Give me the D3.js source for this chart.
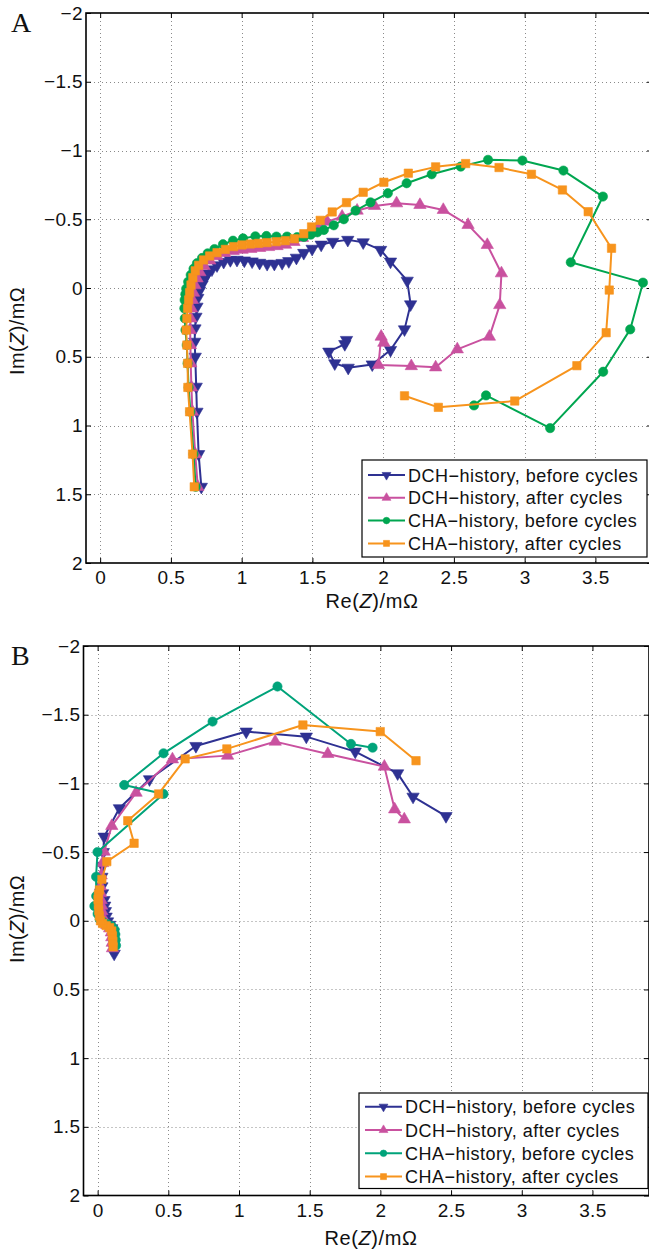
<!DOCTYPE html>
<html><head><meta charset="utf-8">
<script src="https://cdn.jsdelivr.net/npm/d3@7"></script>
<style>
body{margin:0;background:#fff;}
svg{display:block;}
</style></head>
<body>
<svg id="chart" width="649" height="1253"></svg>
<script>
// ---------- data (Re(Z) in mΩ, Im(Z) in mΩ as plotted) ----------
const seriesNames = ["DCH\u2212history, before cycles","DCH\u2212history, after cycles","CHA\u2212history, before cycles","CHA\u2212history, after cycles"];
const xTicks = [0,0.5,1,1.5,2,2.5,3,3.5];
const yTicks = [-2,-1.5,-1,-0.5,0,0.5,1,1.5,2];

const A_dchBefore = [[0.715,1.446],[0.696,1.208],[0.684,0.900],[0.679,0.718],[0.672,0.500],[0.668,0.391],[0.670,0.294],[0.677,0.209],[0.684,0.136],[0.690,0.072],[0.702,0.020],
 [0.720,-0.025],[0.740,-0.070],[0.760,-0.105],[0.790,-0.135],[0.826,-0.165],[0.873,-0.190],[0.920,-0.203],[0.967,-0.205],[1.019,-0.200],[1.074,-0.193],[1.127,-0.183],[1.180,-0.175],[1.231,-0.176],[1.286,-0.182],[1.333,-0.195],[1.387,-0.220],[1.439,-0.255],[1.498,-0.285],[1.562,-0.315],[1.644,-0.336],[1.750,-0.350],[1.859,-0.332],[1.982,-0.277],[2.052,-0.192],[2.170,-0.053],[2.194,0.119],[2.151,0.301],[2.052,0.451],[1.923,0.556],[1.753,0.580],[1.658,0.548],[1.616,0.463],[1.729,0.408],[1.741,0.378]];
const A_dchAfter = [[0.690,1.446],[0.672,1.208],[0.652,0.900],[0.645,0.723],[0.640,0.548],[0.638,0.415],[0.636,0.306],[0.640,0.221],[0.645,0.148],[0.652,0.087],[0.660,0.034],
 [0.670,-0.020],[0.685,-0.070],[0.705,-0.115],[0.735,-0.160],[0.775,-0.200],[0.825,-0.232],[0.880,-0.255],[0.940,-0.270],[1.003,-0.278],[1.065,-0.285],[1.127,-0.292],[1.190,-0.298],[1.250,-0.305],[1.310,-0.315],[1.370,-0.335],[1.430,-0.365],[1.480,-0.400],[1.533,-0.440],[1.604,-0.483],[1.710,-0.519],[1.816,-0.563],[1.939,-0.597],[2.095,-0.616],[2.260,-0.604],[2.425,-0.568],[2.600,-0.459],[2.736,-0.313],[2.836,-0.107],[2.824,0.124],[2.751,0.354],[2.524,0.446],[2.371,0.577],[2.199,0.568],[1.967,0.560],[1.986,0.354],[2.005,0.398]];
const A_chaBefore = [[0.675,1.446],[0.660,1.208],[0.638,0.900],[0.625,0.723],[0.618,0.548],[0.612,0.415],[0.603,0.306],[0.598,0.221],[0.595,0.148],[0.597,0.087],[0.602,0.045],
 [0.608,0.005],[0.622,-0.045],[0.640,-0.095],[0.660,-0.140],[0.684,-0.180],[0.720,-0.218],[0.760,-0.252],[0.808,-0.283],[0.868,-0.318],[0.939,-0.344],[1.010,-0.361],[1.097,-0.376],[1.175,-0.378],[1.246,-0.374],[1.321,-0.374],[1.392,-0.370],[1.440,-0.372],[1.488,-0.388],[1.535,-0.405],[1.581,-0.422],[1.651,-0.456],[1.722,-0.500],[1.805,-0.563],[1.911,-0.623],[2.033,-0.689],[2.166,-0.762],[2.343,-0.827],[2.548,-0.883],[2.741,-0.932],[2.984,-0.927],[3.274,-0.854],[3.553,-0.665],[3.326,-0.187],[3.836,-0.039],[3.746,0.301],[3.555,0.609],[3.180,1.019],[2.727,0.781],[2.642,0.854]];
const A_chaAfter = [[0.665,1.446],[0.653,1.208],[0.632,0.900],[0.620,0.723],[0.618,0.548],[0.613,0.415],[0.608,0.306],[0.613,0.221],[0.618,0.148],[0.625,0.087],[0.632,0.034],
 [0.642,-0.022],[0.655,-0.075],[0.672,-0.125],[0.696,-0.165],[0.731,-0.204],[0.774,-0.233],[0.826,-0.257],[0.885,-0.281],[0.943,-0.301],[1.003,-0.313],[1.062,-0.320],[1.120,-0.325],[1.180,-0.330],[1.246,-0.337],[1.309,-0.344],[1.373,-0.358],[1.439,-0.395],[1.494,-0.444],[1.555,-0.492],[1.640,-0.553],[1.741,-0.621],[1.859,-0.696],[2.005,-0.769],[2.178,-0.835],[2.371,-0.881],[2.583,-0.905],[2.819,-0.876],[3.048,-0.827],[3.267,-0.713],[3.449,-0.555],[3.614,-0.289],[3.598,0.015],[3.576,0.325],[3.369,0.565],[2.930,0.822],[2.390,0.868],[2.151,0.784]];

const B_dchBefore = [[0.117,0.240],[0.115,0.200],[0.113,0.160],[0.112,0.120],[0.110,0.085],[0.100,0.055],[0.085,0.030],[0.070,0.005],[0.060,-0.030],[0.055,-0.070],[0.050,-0.110],[0.045,-0.150],[0.035,-0.200],[0.030,-0.250],[0.030,-0.320],[0.035,-0.400],[0.040,-0.500],[0.046,-0.612],[0.154,-0.819],[0.367,-1.030],[0.695,-1.272],[1.051,-1.377],[1.476,-1.340],[1.822,-1.231],[2.122,-1.073],[2.231,-0.903],[2.464,-0.762]];
const B_dchAfter = [[0.105,0.200],[0.103,0.160],[0.100,0.120],[0.097,0.085],[0.085,0.055],[0.065,0.030],[0.045,0.005],[0.035,-0.030],[0.030,-0.070],[0.028,-0.110],[0.025,-0.150],[0.022,-0.200],[0.020,-0.250],[0.025,-0.330],[0.035,-0.420],[0.046,-0.503],[0.100,-0.690],[0.272,-0.932],[0.529,-1.175],[0.919,-1.202],[1.256,-1.304],[1.628,-1.214],[2.028,-1.122],[2.101,-0.811],[2.169,-0.738]];
const B_chaBefore = [[0.130,0.180],[0.128,0.140],[0.125,0.100],[0.120,0.065],[0.100,0.040],[0.070,0.025],[0.040,0.010],[0.015,-0.010],[0.000,-0.050],[-0.023,-0.107],[-0.010,-0.180],[-0.011,-0.320],[-0.001,-0.500],[0.466,-0.923],[0.188,-0.988],[0.466,-1.219],[0.813,-1.450],[1.272,-1.705],[1.792,-1.287],[1.945,-1.260]];
const B_chaAfter = [[0.110,0.190],[0.108,0.150],[0.105,0.110],[0.100,0.075],[0.085,0.050],[0.060,0.035],[0.035,0.020],[0.020,0.000],[0.012,-0.035],[0.008,-0.075],[0.005,-0.115],[0.003,-0.155],[0.005,-0.190],[0.013,-0.224],[0.030,-0.301],[0.065,-0.430],[0.258,-0.564],[0.213,-0.728],[0.431,-0.923],[0.619,-1.178],[0.914,-1.251],[1.452,-1.425],[1.999,-1.377],[2.252,-1.165]];

// ---------- styles ----------
const colorsA = ["#2e3192","#c9519f","#00a650","#f7941d"];
const colorsB = ["#2e3192","#c9519f","#00a37a","#f7941d"];
const symbols = [{t:d3.symbolTriangle,rot:180},{t:d3.symbolTriangle,rot:0},{t:d3.symbolCircle,rot:0},{t:d3.symbolSquare,rot:0}];
const markerSize = [66,66,68,70];
const legendMarkerSize = [34,34,34,36];

const svg = d3.select("#chart");
const fmt = v => (v<0? "\u2212":"") + String(Math.abs(v));
const FS_TICK = 19, FS_LEG = 18, FS_TITLE = 20, SANS = "Liberation Sans, Arial, sans-serif";

function panel(cfg){
  const x = d3.scaleLinear().domain([-0.1,3.9]).range([cfg.left,cfg.right]);
  const y = d3.scaleLinear().domain([-2,2]).range([cfg.top,cfg.bottom]);
  const g = svg.append("g");
  const clipId = "clip"+cfg.id;
  svg.append("clipPath").attr("id",clipId).append("rect")
    .attr("x",cfg.left).attr("y",cfg.top).attr("width",cfg.right-cfg.left).attr("height",cfg.bottom-cfg.top);
  // grid
  const grid = g.append("g").attr("stroke","#8a8a8a").attr("stroke-width",1).attr("stroke-dasharray","1,3");
  grid.selectAll(".gx").data(xTicks).join("line")
    .attr("x1",d=>Math.round(x(d))+0.5).attr("x2",d=>Math.round(x(d))+0.5)
    .attr("y1",cfg.top).attr("y2",cfg.bottom);
  grid.selectAll(".gy").data(yTicks.slice(1,-1)).join("line")
    .attr("y1",d=>Math.round(y(d))+0.5).attr("y2",d=>Math.round(y(d))+0.5)
    .attr("x1",cfg.left).attr("x2",cfg.right);
  // axes
  const axB = g.append("g").attr("transform",`translate(0,${cfg.bottom})`)
    .call(d3.axisBottom(x).tickValues(xTicks).tickFormat(fmt).tickSizeInner(-5).tickSizeOuter(0).tickPadding(8));
  const axL = g.append("g").attr("transform",`translate(${cfg.left},0)`)
    .call(d3.axisLeft(y).tickValues(yTicks).tickFormat(fmt).tickSizeInner(-5).tickSizeOuter(0).tickPadding(3));
  const axT = g.append("g").attr("transform",`translate(0,${cfg.top})`)
    .call(d3.axisTop(x).tickValues(xTicks).tickFormat("").tickSizeInner(-5).tickSizeOuter(0));
  const axR = g.append("g").attr("transform",`translate(${cfg.right},0)`)
    .call(d3.axisRight(y).tickValues(yTicks).tickFormat("").tickSizeInner(-5).tickSizeOuter(0));
  [axB,axL,axT,axR].forEach(a=>{
    a.select(".domain").remove();
    a.selectAll("line").attr("stroke","#000").attr("stroke-width",1);
    a.selectAll("text").attr("font-size",FS_TICK).attr("fill","#111").attr("font-family",SANS).style("letter-spacing","0.4px");
  });
  g.append("rect").attr("x",cfg.left).attr("y",cfg.top).attr("width",cfg.right-cfg.left).attr("height",cfg.bottom-cfg.top)
    .attr("fill","none").attr("stroke","#000").attr("stroke-width",1.6);
  // series
  const line = d3.line().x(d=>x(d[0])).y(d=>y(d[1]));
  const plot = g.append("g").attr("clip-path",`url(#${clipId})`);
  cfg.series.forEach((s,i)=>{
    plot.append("path").datum(s).attr("d",line).attr("fill","none")
      .attr("stroke",cfg.colors[i]).attr("stroke-width",2).attr("stroke-linejoin","round");
    const sym = d3.symbol().type(symbols[i].t).size(markerSize[i]);
    plot.selectAll(null).data(s).join("path").attr("d",sym)
      .attr("transform",d=>`translate(${x(d[0])},${y(d[1])}) rotate(${symbols[i].rot})`)
      .attr("fill",cfg.colors[i]).attr("stroke",cfg.colors[i]).attr("stroke-width",0.6);
  });
  // legend
  const L = cfg.legend;
  g.append("rect").attr("x",L.x).attr("y",L.y).attr("width",L.w).attr("height",L.h)
    .attr("fill","#fff").attr("stroke","#000").attr("stroke-width",1.2);
  seriesNames.forEach((n,i)=>{
    const ry = L.y + L.first + i*L.step;
    g.append("line").attr("x1",L.x+6).attr("x2",L.x+43).attr("y1",ry).attr("y2",ry)
      .attr("stroke",cfg.colors[i]).attr("stroke-width",2);
    g.append("path").attr("d",d3.symbol().type(symbols[i].t).size(legendMarkerSize[i]))
      .attr("transform",`translate(${L.x+24.5},${ry}) rotate(${symbols[i].rot})`)
      .attr("fill",cfg.colors[i]).attr("stroke",cfg.colors[i]).attr("stroke-width",0.6);
    g.append("text").attr("x",L.x+46).attr("y",ry+6.5).attr("font-size",FS_LEG).attr("fill","#111")
      .style("font-family",SANS).style("letter-spacing","0.5px").text(n);
  });
  // axis titles
  const xt = g.append("text").attr("x",cfg.xTitle[0]).attr("y",cfg.xTitle[1]).attr("text-anchor","middle")
    .attr("font-size",FS_TITLE).attr("fill","#111").style("font-family",SANS).style("letter-spacing","0.6px");
  xt.append("tspan").text("Re(");
  xt.append("tspan").attr("font-style","italic").text("Z");
  xt.append("tspan").text(")/m\u03A9");
  const yt = g.append("text").attr("transform",`translate(${cfg.yTitle[0]},${cfg.yTitle[1]}) rotate(-90)`)
    .attr("text-anchor","middle").attr("font-size",FS_TITLE).attr("fill","#111").style("font-family",SANS).style("letter-spacing","0.4px");
  yt.append("tspan").text("Im(");
  yt.append("tspan").attr("font-style","italic").text("Z");
  yt.append("tspan").text(")/m\u03A9");
  g.append("text").attr("x",cfg.label[0]).attr("y",cfg.label[1]).attr("font-size",28).attr("fill","#111")
    .style("font-family","Liberation Serif, Times New Roman, serif").text(cfg.id);
}

panel({id:"A",left:86,right:652,top:13,bottom:563,colors:colorsA,
  series:[A_dchBefore,A_dchAfter,A_chaBefore,A_chaAfter],
  legend:{x:362,y:460,w:285,h:97,first:15,step:22.8},
  xTitle:[372,608], yTitle:[24,331], label:[11,32]});
panel({id:"B",left:83.5,right:649,top:646,bottom:1195.5,colors:colorsB,
  series:[B_dchBefore,B_dchAfter,B_chaBefore,B_chaAfter],
  legend:{x:359,y:1093,w:289,h:95.5,first:13.7,step:23.3},
  xTitle:[371,1245], yTitle:[24,919], label:[11,665]});
</script>
</body></html>
